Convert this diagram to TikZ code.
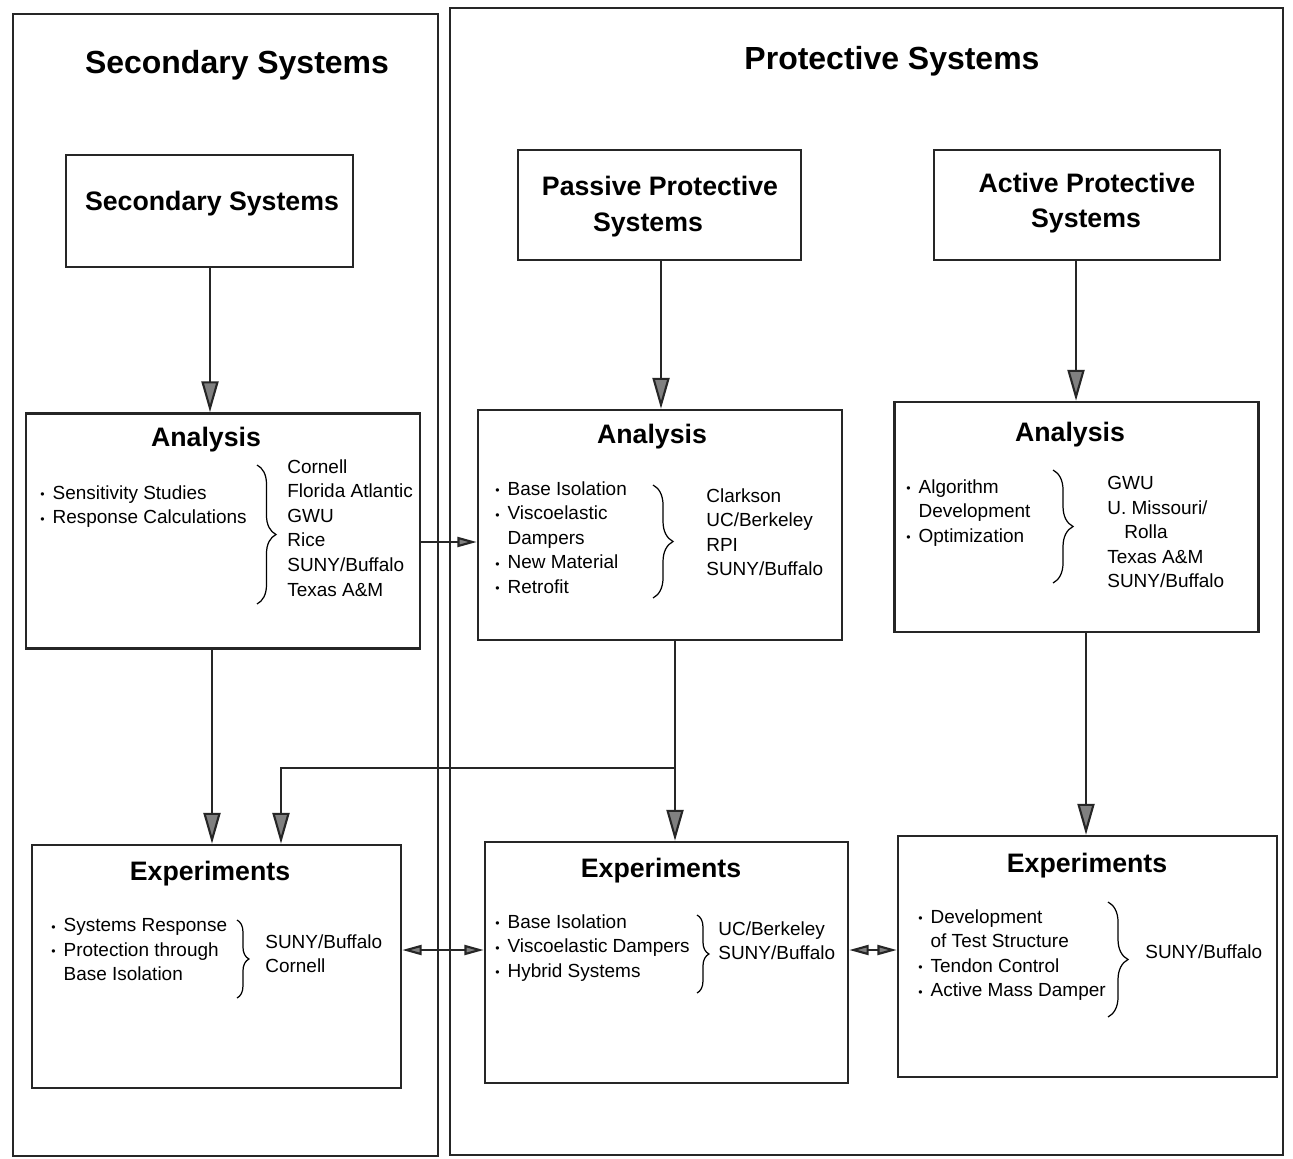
\documentclass[tikz,border=0pt]{standalone}
\usepackage{fontspec}
\setmainfont{Liberation Sans}
\usetikzlibrary{arrows.meta,decorations.pathreplacing,calc}

\newcommand{\mybl}{\makebox[7pt][l]{\fontsize{7}{7}\selectfont\raisebox{0.3pt}{•}}}
\newcommand{\myind}{\hspace*{7pt}}

\begin{document}
\begin{tikzpicture}[x=0.02cm,y=-0.02cm,
  frame/.style={draw=black!85, line width=1.2pt, inner sep=0pt},
  box/.style={draw=black!85, line width=1.5pt, inner sep=0pt},
  bigtitle/.style={font=\fontsize{18.2}{22}\selectfont\bfseries, anchor=base, inner sep=0pt},
  boxtitle/.style={font=\fontsize{15.2}{18}\selectfont\bfseries, anchor=base, inner sep=0pt},
  lst/.style={font=\fontsize{10.8}{14}\selectfont, anchor=north west, align=left, inner sep=0pt},
  conn/.style={draw=black!85, line width=1.2pt},
  bigarr/.style={conn, -{Triangle[length=17.6pt,width=9.7pt,fill=black!50]}},
  smallarr/.style={conn, -{Triangle[length=11pt,width=5.7pt,fill=black!50]}},
  dblarr/.style={conn, {Triangle[length=11pt,width=5.7pt,fill=black!50]}-{Triangle[length=11pt,width=5.7pt,fill=black!50]}},
  brc/.style={draw=black, line width=0.7pt, decorate, decoration={brace, amplitude=#1}},
]
\useasboundingbox (0,0) rectangle (1293,1158);
\fill[white] (0,0) rectangle (1293,1158);

% outer frames
\node[frame, minimum width=8.5cm, minimum height=22.84cm] (lframe) at (225.5,585) {};
\node[frame, minimum width=16.66cm, minimum height=22.94cm] (rframe) at (866.5,581.5) {};

% top titles
\node[bigtitle] (t1) at (237,74) {Secondary Systems};
\node[bigtitle] (t2) at (892,70) {Protective Systems};

% top boxes
\node[box, minimum width=5.74cm, minimum height=2.24cm] (ssbox) at (209.5,211) {};
\node[box, minimum width=5.66cm, minimum height=2.20cm] (ppbox) at (659.5,205) {};
\node[box, minimum width=5.72cm, minimum height=2.20cm] (apbox) at (1077,205) {};
\node[boxtitle] (ssboxt) at (212,211) {Secondary Systems};
\node[boxtitle] (ppboxt1) at (660,196) {Passive Protective};
\node[boxtitle] (ppboxt2) at (648,232) {Systems};
\node[boxtitle] (apboxt1) at (1087,193) {Active Protective};
\node[boxtitle] (apboxt2) at (1086,228) {Systems};

% analysis boxes
\node[box, minimum width=7.88cm, minimum height=4.70cm] (anss) at (223,531) {};
\node[box, minimum width=7.28cm, minimum height=4.60cm] (anpp) at (660,525) {};
\node[box, minimum width=7.28cm, minimum height=4.60cm] (anap) at (1076.5,517) {};
\node[boxtitle] (anssT) at (206,446) {Analysis};
\node[boxtitle] (anppT) at (652,443) {Analysis};
\node[boxtitle] (anapT) at (1070,441) {Analysis};

% experiment boxes
\node[box, minimum width=7.38cm, minimum height=4.86cm] (exss) at (216.5,966.5) {};
\node[box, minimum width=7.26cm, minimum height=4.82cm] (expp) at (666.5,962.5) {};
\node[box, minimum width=7.58cm, minimum height=4.82cm] (exap) at (1087.5,956.5) {};
\node[boxtitle] (exssT) at (210,880) {Experiments};
\node[boxtitle] (exppT) at (661,877) {Experiments};
\node[boxtitle] (exapT) at (1087,872) {Experiments};

% lists
\node[lst] (anssL) at (40,485) {\mybl Sensitivity Studies\\ \mybl Response Calculations};
\node[lst] (anssR) at (287,459) {Cornell\\ Florida Atlantic\\ GWU\\ Rice\\ SUNY/Buffalo\\ Texas A\&M};
\node[lst] (anppL) at (495,481) {\mybl Base Isolation\\ \mybl Viscoelastic\\ \myind Dampers\\ \mybl New Material\\ \mybl Retrofit};
\node[lst] (anppR) at (706,488) {Clarkson\\ UC/Berkeley\\ RPI\\ SUNY/Buffalo};
\node[lst] (anapL) at (906,479) {\mybl Algorithm\\ \myind Development\\ \mybl Optimization};
\node[lst] (anapR) at (1107,476) {GWU\\ U. Missouri/\\ \hspace*{9.7pt}Rolla\\ Texas A\&M\\ SUNY/Buffalo};
\node[lst] (exssL) at (51,918) {\mybl Systems Response\\ \mybl Protection through\\ \myind Base Isolation};
\node[lst] (exssR) at (265,934) {SUNY/Buffalo\\ Cornell};
\node[lst] (exppL) at (495,914) {\mybl Base Isolation\\ \mybl Viscoelastic Dampers\\ \mybl Hybrid Systems};
\node[lst] (exppR) at (718,921) {UC/Berkeley\\ SUNY/Buffalo};
\node[lst] (exapL) at (918,909) {\mybl Development\\ \myind of Test Structure\\ \mybl Tendon Control\\ \mybl Active Mass Damper};
\node[lst] (exapR) at (1145,944) {SUNY/Buffalo};

% braces
\draw[brc=10.8pt] (257,465) -- (257,604);
\draw[brc=11.4pt] (653,485) -- (653,598);
\draw[brc=11.4pt] (1053,470) -- (1053,583);
\draw[brc=6.8pt] (237,920) -- (237,998);
\draw[brc=6.8pt] (697,915) -- (697,993);
\draw[brc=11.4pt] (1108,902) -- (1108,1017);

% helper coordinates
\coordinate (xss1) at (210,0);
\coordinate (xpp1) at (661,0);
\coordinate (xap1) at (1076,0);
\coordinate (xss2) at (212,0);
\coordinate (xpp2) at (675,0);
\coordinate (xss3) at (281,0);
\coordinate (xap2) at (1086,0);
\coordinate (brk) at (675,768);
\coordinate (yh1) at (0,542);
\coordinate (yh2) at (0,950);

% connectors
\draw[bigarr] (ssbox.south -| xss1) -- (anss.north -| xss1);
\draw[bigarr] (ppbox.south -| xpp1) -- (anpp.north -| xpp1);
\draw[bigarr] (apbox.south -| xap1) -- (anap.north -| xap1);
\draw[bigarr] (anss.south -| xss2) -- (exss.north -| xss2);
\draw[bigarr] (anpp.south -| xpp2) -- (expp.north -| xpp2);
\draw[bigarr] (brk) -| (exss.north -| xss3);
\draw[bigarr] (anap.south -| xap2) -- (exap.north -| xap2);
\draw[smallarr] (anss.east |- yh1) -- (anpp.west |- yh1);
\draw[dblarr] (exss.east |- yh2) -- (expp.west |- yh2);
\draw[dblarr] (expp.east |- yh2) -- (exap.west |- yh2);
\end{tikzpicture}
\end{document}
